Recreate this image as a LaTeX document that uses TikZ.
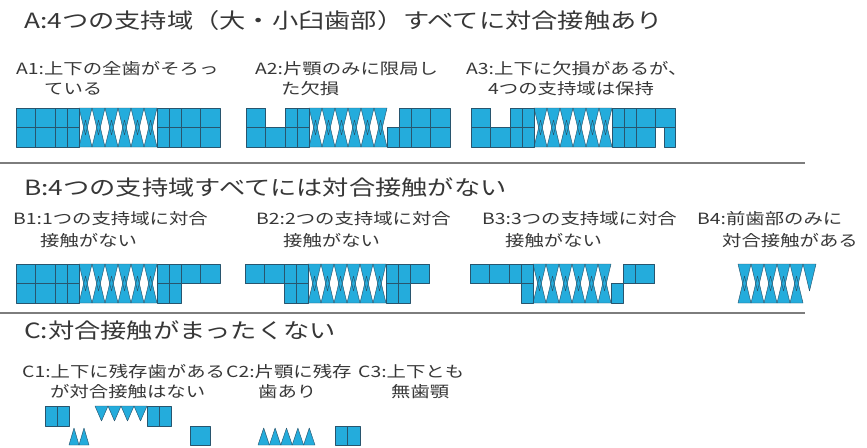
\documentclass[tikz,border=0pt]{standalone}
\usepackage{fontspec}
\newfontfamily\jp[FakeStretch=1.25]{Noto Sans CJK JP}
\definecolor{tcyan}{RGB}{36,172,220}
\definecolor{tedge}{RGB}{40,85,110}
\definecolor{txt}{RGB}{55,55,55}
\definecolor{sepc}{RGB}{125,125,125}
\tikzset{
 tfill/.style={fill=tcyan},
 tline/.style={draw=tedge,line width=0.45pt,line join=round},
 ttl/.style={font=\jp\fontsize{21}{21}\selectfont,text=txt,anchor=west,inner sep=0pt},
 lbl/.style={font=\jp\fontsize{15.5}{15.5}\selectfont,text=txt,anchor=west,inner sep=0pt},
 sepline/.style={draw=sepc,line width=1.2pt}
}
\def\TX{{0,19.5,39,51,63,76,89,102,115,128,141,153,165,184.5,204}}
\def\TH{27}% height of an anterior tooth triangle
\newcommand\tooth[3]{%
  \pgfmathsetmacro\xa{\TX[#1-1]}%
  \pgfmathsetmacro\xb{\TX[#1]}%
  \pgfmathsetmacro\xm{(\xa+\xb)/2}%
  \pgfmathtruncatemacro\isant{and(#1>4,#1<11)}%
  \ifnum\isant=1\relax
    \ifx U#2\path[#3] (\xa,0) -- (\xb,0) -- (\xm,\TH) -- cycle;
    \else\path[#3] (\xa,39) -- (\xb,39) -- (\xm,39-\TH) -- cycle;\fi
  \else
    \ifx U#2\path[#3] (\xa,0) rectangle (\xb,19.5);
    \else\path[#3] (\xa,19.5) rectangle (\xb,39);\fi
  \fi}
\newcommand\teethstrip[4]{%
  \begin{scope}[shift={(#1,#2)}]
   \foreach \i in {#3} {\tooth{\i}{U}{tfill}}
   \foreach \i in {#4} {\tooth{\i}{L}{tfill}}
   \foreach \i in {#3} {\tooth{\i}{U}{tline}}
   \foreach \i in {#4} {\tooth{\i}{L}{tline}}
  \end{scope}}
\begin{document}
\begin{tikzpicture}[x=1pt,y=-1pt]
\useasboundingbox[fill=white] (0,0) rectangle (867,447);
% ---------- A ----------
\node[ttl] (tA) at (24,21) {A:4つの支持域（大・小臼歯部）すべてに対合接触あり};
\node[lbl] (a1a) at (16,69) {A1:上下の全歯がそろっ};
\node[lbl] (a1b) at (44,89) {ている};
\node[lbl] (a2a) at (255,69) {A2:片顎のみに限局し};
\node[lbl] (a2b) at (281,89) {た欠損};
\node[lbl] (a3a) at (466,69) {A3:上下に欠損があるが、};
\node[lbl] (a3b) at (488,89) {4つの支持域は保持};
\teethstrip{16}{108}{1,...,14}{1,...,14}
\teethstrip{246}{108}{1,3,4,5,6,7,8,9,10,12,13,14}{1,...,14}
\teethstrip{471}{108}{1,3,4,...,14}{1,...,13}
\path[tfill] (664,127.5) rectangle (675,147);
\path[tline] (664,127.5) rectangle (675,147);
\coordinate (s1a) at (0,163); \coordinate (s1b) at (805,163);
\draw[sepline] (s1a) -- (s1b);
% ---------- B ----------
\node[ttl] (tB) at (24,187) {B:4つの支持域すべてには対合接触がない};
\node[lbl] (b1a) at (13,219) {B1:1つの支持域に対合};
\node[lbl] (b1b) at (40,241) {接触がない};
\node[lbl] (b2a) at (256,219) {B2:2つの支持域に対合};
\node[lbl] (b2b) at (283,241) {接触がない};
\node[lbl] (b3a) at (482,219) {B3:3つの支持域に対合};
\node[lbl] (b3b) at (505,241) {接触がない};
\node[lbl] (b4a) at (697,219) {B4:前歯部のみに};
\node[lbl] (b4b) at (722,241) {対合接触がある};
\teethstrip{16}{264}{1,...,14}{1,...,12}
\teethstrip{245}{264}{1,...,13}{3,...,12}
\teethstrip{470}{264}{1,...,10,12,13}{4,...,11}
\teethstrip{675}{264}{5,...,10}{5,...,9}
\coordinate (s2a) at (0,313); \coordinate (s2b) at (805,313);
\draw[sepline] (s2a) -- (s2b);
% ---------- C ----------
\node[ttl] (tC) at (24,330) {C:対合接触がまったくない};
\node[lbl] (c1a) at (22,372) {C1:上下に残存歯がある};
\node[lbl] (c1b) at (50,392) {が対合接触はない};
\node[lbl] (c2a) at (226,372) {C2:片顎に残存};
\node[lbl] (c2b) at (258,392) {歯あり};
\node[lbl] (c3a) at (358,372) {C3:上下とも};
\node[lbl] (c3b) at (391,392) {無歯顎};
% C1
\foreach \x in {45,57,147,159} {\path[tfill,tline] (\x,406) rectangle ++(12,20);}
\foreach \k in {0,...,3} {\path[tfill,tline] (95+13*\k,406) -- ++(13,0) -- ++(-6.5,15) -- cycle;}
\foreach \k in {0,1} {\path[tfill,tline] (69+10*\k,445) -- ++(10,0) -- ++(-5,-17) -- cycle;}
\path[tfill,tline] (190.5,426) rectangle (210,445);
% C2
\foreach \k in {0,...,4} {\path[tfill,tline] (258+11.4*\k,445) -- ++(11.4,0) -- ++(-5.7,-17) -- cycle;}
\foreach \x in {335,347.5} {\path[tfill,tline] (\x,426) rectangle ++(12.5,19);}
\end{tikzpicture}
\end{document}
